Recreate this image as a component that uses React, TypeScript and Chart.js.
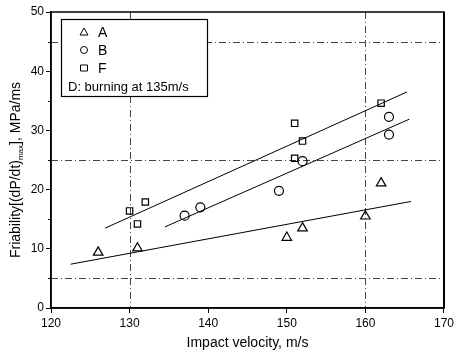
import React, { useEffect, useRef } from "react";
import { Chart, registerables } from "chart.js";
Chart.register(...registerables);

const seriesNames = ["A", "B", "F"];
const seriesStyles = ["triangle", "circle", "rect"];
const aX = [126, 131, 150, 152, 160, 162];
const aY = [9.4, 10.1, 11.9, 13.5, 15.5, 21.1];
const bX = [137, 139, 149, 152, 163, 163];
const bY = [15.6, 17.0, 19.8, 24.8, 32.3, 29.3];
const fX = [130, 131, 132, 151, 152, 151, 162];
const fY = [16.4, 14.2, 17.9, 31.2, 28.2, 25.3, 34.6];
const fitAX = [122.5, 165.8];
const fitAY = [7.4, 18.0];
const fitBX = [134.5, 165.6];
const fitBY = [13.7, 31.9];
const fitFX = [126.9, 165.3];
const fitFY = [13.5, 36.5];
const gridX = [130, 160];
const gridY = [5, 25, 45];
const legendNote = "D: burning at 135m/s";
const xTitle = "Impact velocity, m/s";
const yTitleParts = ["Friability[(dP/dt)", "max", "], MPa/ms"];

const pts = (xs: number[], ys: number[]) => xs.map((x, i) => ({ x, y: ys[i] }));

const FONT = "'Liberation Sans', Arial, sans-serif";

const decorPlugin = {
  id: "decor",
  beforeDatasetsDraw(chart: any) {
    const { ctx, chartArea: ca, scales } = chart;
    const xs = scales.x, ys = scales.y;
    ctx.save();
    ctx.strokeStyle = "#444";
    ctx.lineWidth = 1;
    ctx.setLineDash([7, 3, 1, 3]);
    gridX.forEach((v) => {
      const px = Math.round(xs.getPixelForValue(v)) + 0.5;
      ctx.beginPath();
      ctx.moveTo(px, ca.top);
      ctx.lineTo(px, ca.bottom);
      ctx.stroke();
    });
    gridY.forEach((v) => {
      const py = Math.round(ys.getPixelForValue(v)) + 0.5;
      ctx.beginPath();
      ctx.moveTo(ca.left, py);
      ctx.lineTo(ca.right, py);
      ctx.stroke();
    });
    ctx.restore();
  },
  afterDraw(chart: any) {
    const { ctx, chartArea: ca, scales } = chart;
    const ys = scales.y;
    ctx.save();
    // frame
    ctx.strokeStyle = "#000";
    ctx.lineWidth = 1.5;
    ctx.setLineDash([]);
    ctx.strokeRect(ca.left, ca.top, ca.right - ca.left, ca.bottom - ca.top);
    ctx.lineWidth = 2;
    ctx.beginPath();
    ctx.moveTo(ca.right, ca.top);
    ctx.lineTo(ca.right, ca.bottom);
    ctx.stroke();
    // minor ticks on y
    ctx.lineWidth = 1;
    for (let v = 5; v < 50; v += 10) {
      const py = Math.round(ys.getPixelForValue(v)) + 0.5;
      ctx.beginPath();
      ctx.moveTo(ca.left - 3, py);
      ctx.lineTo(ca.left, py);
      ctx.stroke();
    }
    // legend
    const lx = 61, ly = 19, lw = 146, lh = 77;
    ctx.fillStyle = "#fff";
    ctx.fillRect(lx, ly, lw, lh);
    ctx.lineWidth = 1.2;
    ctx.strokeStyle = "#000";
    ctx.strokeRect(lx + 0.5, ly + 0.5, lw, lh);
    ctx.fillStyle = "#000";
    ctx.font = `13px ${FONT}`;
    ctx.textBaseline = "middle";
    const rows = [32, 50, 68];
    seriesNames.forEach((name, i) => {
      const cx = 84, cy = rows[i];
      ctx.lineWidth = 1;
      ctx.beginPath();
      if (seriesStyles[i] === "triangle") {
        ctx.moveTo(cx, cy - 4);
        ctx.lineTo(cx + 4, cy + 3);
        ctx.lineTo(cx - 4, cy + 3);
        ctx.closePath();
      } else if (seriesStyles[i] === "circle") {
        ctx.arc(cx, cy, 3.5, 0, Math.PI * 2);
      } else {
        ctx.rect(cx - 3.5, cy - 3, 7, 6);
      }
      ctx.stroke();
      ctx.font = `14px ${FONT}`;
      ctx.fillText(name, 98, cy + 1);
    });
    ctx.font = `13px ${FONT}`;
    ctx.fillText(legendNote, 68, 87);
    // y title with subscript
    ctx.translate(15, 170);
    ctx.rotate(-Math.PI / 2);
    const big = `14px ${FONT}`, small = `8px ${FONT}`;
    ctx.font = big;
    const w0 = ctx.measureText(yTitleParts[0]).width;
    const w2 = ctx.measureText(yTitleParts[2]).width;
    ctx.font = small;
    const w1 = ctx.measureText(yTitleParts[1]).width;
    let x0 = -(w0 + w1 + w2) / 2;
    ctx.textBaseline = "alphabetic";
    ctx.font = big;
    ctx.fillText(yTitleParts[0], x0, 5);
    x0 += w0;
    ctx.font = small;
    ctx.fillText(yTitleParts[1], x0, 8);
    x0 += w1;
    ctx.font = big;
    ctx.fillText(yTitleParts[2], x0, 5);
    ctx.restore();
  },
};

export default function App() {
  const ref = useRef<HTMLCanvasElement>(null);
  useEffect(() => {
    const mk = (xs: number[], ys: number[], style: string, label: string) => ({
      type: "scatter" as const,
      label,
      data: pts(xs, ys),
      pointStyle: style,
      pointRadius: style === "triangle" ? 5.5 : 4.5,
      borderColor: "#000",
      backgroundColor: "rgba(0,0,0,0)",
      pointBorderWidth: 1.2,
      showLine: false,
    });
    const fit = (xs: number[], ys: number[]) => ({
      type: "line" as const,
      label: "fit",
      data: pts(xs, ys),
      borderColor: "#000",
      borderWidth: 1,
      pointRadius: 0,
      fill: false,
    });
    const chart = new Chart(ref.current!, {
      type: "scatter",
      data: {
        datasets: [
          mk(aX, aY, "triangle", seriesNames[0]),
          mk(bX, bY, "circle", seriesNames[1]),
          mk(fX, fY, "rect", seriesNames[2]),
          fit(fitAX, fitAY),
          fit(fitBX, fitBY),
          fit(fitFX, fitFY),
        ] as any,
      },
      options: {
        animation: false,
        responsive: false,
        layout: { padding: { top: 12, right: 9, left: 0, bottom: 0 } },
        plugins: { legend: { display: false }, tooltip: { enabled: false } },
        scales: {
          x: {
            type: "linear",
            min: 120,
            max: 170,
            ticks: { stepSize: 10, color: "#000", font: { family: FONT, size: 12 }, padding: 3 },
            grid: { drawOnChartArea: false, tickLength: 5, color: "#000", tickColor: "#000" },
            border: { display: true, color: "#000", width: 1.5 },
            title: { display: true, text: xTitle, color: "#000", font: { family: FONT, size: 14 }, padding: { top: 5 } },
            afterFit: (s: any) => { s.height = 48; },
          },
          y: {
            type: "linear",
            min: 0,
            max: 50,
            ticks: { stepSize: 10, color: "#000", font: { family: FONT, size: 12 }, padding: 2 },
            grid: { drawOnChartArea: false, tickLength: 5, color: "#000", tickColor: "#000" },
            border: { display: true, color: "#000", width: 1.5 },
            afterFit: (s: any) => { s.width = 51; },
          },
        },
      },
      plugins: [decorPlugin],
    });
    return () => chart.destroy();
  }, []);
  return (
    <div style={{ position: "fixed", left: 0, top: 0, width: 457, height: 356, background: "#fff" }}>
      <canvas ref={ref} width={457} height={356} />
    </div>
  );
}
